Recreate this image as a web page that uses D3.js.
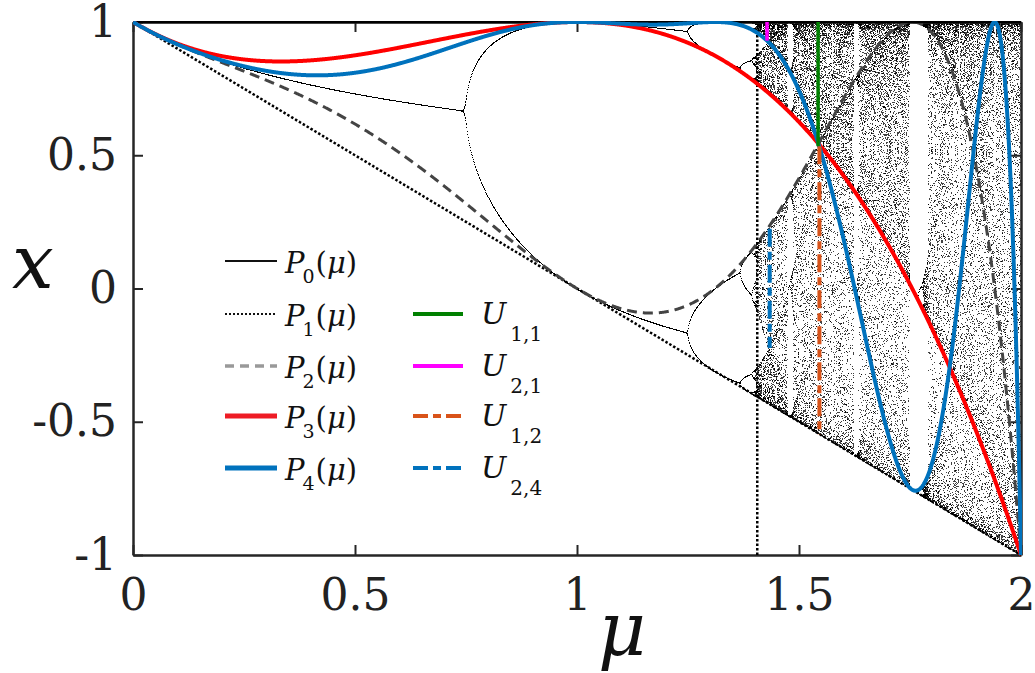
<!DOCTYPE html>
<html>
<head>
<meta charset="utf-8">
<script src="https://cdn.jsdelivr.net/npm/d3@7"></script>
<style>
  body { margin: 0; background: #fff; }
</style>
</head>
<body>
<svg id="chart" width="1035" height="673"></svg>
<script>
// axis ticks
const muTicks = [0, 0.5, 1, 1.5, 2];
const xTicks = [-1, -0.5, 0, 0.5, 1];

// curves P_n follow the orbit of the critical point x0 = 0 of x -> 1 - mu x^2
const curveNames = ['0', '1', '2', '3', '4'];
const curveIterate = [1, 2, 4, 3, 5];

// vertical segments U_{i,j}
const uNames = ['1,1', '2,1', '1,2', '2,4'];
const uMu = [1.543, 1.428, 1.546, 1.434];
const uTop = [1, 1, 0.534, 0.224];
const uBottom = [0.534, 0.93, -0.548, -0.223];

// accumulation point of the period doubling cascade
const muInf = 1.406;

const serif = "'DejaVu Serif', 'Liberation Serif', 'Times New Roman', serif";

const svg = d3.select('#chart');
const x = d3.scaleLinear().domain([0, 2]).range([133, 1021]);
const y = d3.scaleLinear().domain([-1, 1]).range([555, 22]);

// bifurcation diagram drawn on a canvas, then put into the svg
const w = Math.round(x(2) - x(0));
const h = Math.round(y(-1) - y(1)) + 1;
const canvas = document.createElement('canvas');
canvas.width = w;
canvas.height = h;
const ctx = canvas.getContext('2d');
const img = ctx.createImageData(w, h);
const perPx = 2;
for (let i = 0; i < w * perPx; i++) {
  const mu = x.invert(x(0) + (i + 0.5) / perPx);
  let v = 0;
  for (let k = 0; k < 500; k++) v = 1 - mu * v * v;
  const px = Math.floor(x(mu) - x(0));
  for (let k = 0; k < 70; k++) {
    v = 1 - mu * v * v;
    const py = Math.round(y(v) - y(1));
    if (py < 0 || py >= h || px < 0 || px >= w) continue;
    const idx = (py * w + px) * 4;
    img.data[idx] = 0; img.data[idx + 1] = 0; img.data[idx + 2] = 0;
    img.data[idx + 3] = Math.min(255, img.data[idx + 3] + 190);
  }
}
ctx.putImageData(img, 0, 0);

svg.append('rect').attr('width', 1035).attr('height', 673).attr('fill', '#fff');

svg.append('defs').append('clipPath').attr('id', 'plot')
  .append('rect').attr('x', x(0)).attr('y', y(1) - 1)
  .attr('width', x(2) - x(0) + 1).attr('height', y(-1) - y(1) + 2);

svg.append('image')
  .attr('x', x(0)).attr('y', y(1))
  .attr('width', w).attr('height', h)
  .attr('href', canvas.toDataURL());

// axes with inward ticks on all four sides
const axisColor = '#262626';
function styleAxis(g) {
  g.select('.domain').attr('stroke', axisColor).attr('stroke-width', 2.5);
  g.selectAll('.tick line').attr('stroke', axisColor).attr('stroke-width', 2);
  g.selectAll('.tick text').attr('font-size', 44).attr('fill', '#222')
    .style('font-family', serif);
}
svg.append('g').attr('transform', `translate(0,${y(-1)})`)
  .call(d3.axisBottom(x).tickValues(muTicks).tickSizeInner(-10).tickSizeOuter(0)
    .tickPadding(24).tickFormat(d => String(d)))
  .call(styleAxis);
svg.append('g').attr('transform', `translate(${x(0)},0)`)
  .call(d3.axisLeft(y).tickValues(xTicks).tickSizeInner(-10).tickSizeOuter(0)
    .tickPadding(16).tickFormat(d => String(d)))
  .call(styleAxis);
svg.append('g').attr('transform', `translate(0,${y(1)})`)
  .call(d3.axisTop(x).tickValues(muTicks).tickSizeInner(-10).tickSizeOuter(0).tickFormat(''))
  .call(styleAxis);
svg.append('g').attr('transform', `translate(${x(2)},0)`)
  .call(d3.axisRight(y).tickValues(xTicks).tickSizeInner(-10).tickSizeOuter(0).tickFormat(''))
  .call(styleAxis);

// critical orbit curves
function orbit(mu, n) {
  let v = 0;
  for (let k = 0; k < n; k++) v = 1 - mu * v * v;
  return v;
}
const muGrid = d3.range(0, 2.0005, 0.001);
const line = d3.line().x(d => x(d[0])).y(d => y(d[1]));
const curveStyle = [
  { color: '#000', width: 2.5, dash: null },
  { color: '#000', width: 2.5, dash: '2.5,2' },
  { color: '#444', width: 3, dash: '10,6' },
  { color: '#ff0000', width: 4, dash: null },
  { color: '#0072bd', width: 4, dash: null }
];
const legendStyle = [
  { color: '#111', width: 2, dash: null },
  { color: '#111', width: 2, dash: '2,2' },
  { color: '#999', width: 3.5, dash: '9,6' },
  { color: '#ee1c25', width: 5, dash: null },
  { color: '#0072bd', width: 5, dash: null }
];

const plot = svg.append('g').attr('clip-path', 'url(#plot)');
const drawOrder = [1, 2, 0, 3, 4];

plot.append('line')
  .attr('x1', x(muInf)).attr('x2', x(muInf))
  .attr('y1', y(-1)).attr('y2', y(0.96))
  .attr('stroke', '#000').attr('stroke-width', 2.5).attr('stroke-dasharray', '2.5,2');

drawOrder.forEach(i => {
  const pts = muGrid.map(mu => [mu, orbit(mu, curveIterate[i])]);
  const s = curveStyle[i];
  plot.append('path')
    .attr('d', line(pts))
    .attr('fill', 'none')
    .attr('stroke', s.color)
    .attr('stroke-width', s.width)
    .attr('stroke-dasharray', s.dash);
});

const uStyle = [
  { color: '#008000', width: 3.5, dash: null },
  { color: '#ff00ff', width: 3.5, dash: null },
  { color: '#d95319', width: 4, dash: '18,5,8,5' },
  { color: '#0072bd', width: 4, dash: '18,5,8,5' }
];
uMu.forEach((mu, i) => {
  plot.append('line')
    .attr('x1', x(mu)).attr('x2', x(mu))
    .attr('y1', y(uTop[i])).attr('y2', y(uBottom[i]))
    .attr('stroke', uStyle[i].color)
    .attr('stroke-width', uStyle[i].width)
    .attr('stroke-dasharray', uStyle[i].dash);
});

// legend
const pRows = [261, 314, 366, 416, 468];
const legend = svg.append('g').style('font-family', serif).attr('fill', '#111');
curveNames.forEach((name, i) => {
  const s = legendStyle[i];
  legend.append('line')
    .attr('x1', 225).attr('x2', 277).attr('y1', pRows[i]).attr('y2', pRows[i])
    .attr('stroke', s.color).attr('stroke-width', s.width)
    .attr('stroke-dasharray', s.dash);
  const t = legend.append('text').attr('x', 285).attr('y', pRows[i] + 12)
    .attr('font-size', 29);
  t.append('tspan').attr('font-style', 'italic').text('P');
  t.append('tspan').attr('font-size', 19).attr('dy', 10).attr('dx', -2).text(name);
  t.append('tspan').attr('dy', -10).attr('dx', 1).text('(');
  t.append('tspan').attr('font-style', 'italic').text('μ');
  t.append('tspan').text(')');
});
uNames.forEach((name, i) => {
  const row = pRows[i + 1];
  legend.append('line')
    .attr('x1', 413).attr('x2', 463).attr('y1', row).attr('y2', row)
    .attr('stroke', uStyle[i].color).attr('stroke-width', 4)
    .attr('stroke-dasharray', uStyle[i].dash ? '15,5,8,5' : null);
  const t = legend.append('text').attr('x', 481).attr('y', row + 10)
    .attr('font-size', 30);
  t.append('tspan').attr('font-style', 'italic').text('U');
  t.append('tspan').attr('font-size', 20).attr('dy', 17).attr('dx', 4).text(name);
});

// axis titles
svg.append('text').attr('x', 12).attr('y', 288).style('font-family', serif).attr('fill', '#111')
  .attr('font-size', 74).attr('font-style', 'italic').text('x');
svg.append('text').attr('x', 622).attr('y', 655).attr('text-anchor', 'middle')
  .style('font-family', serif).attr('fill', '#111')
  .attr('font-size', 74).attr('font-style', 'italic').text('μ');
</script>
</body>
</html>
